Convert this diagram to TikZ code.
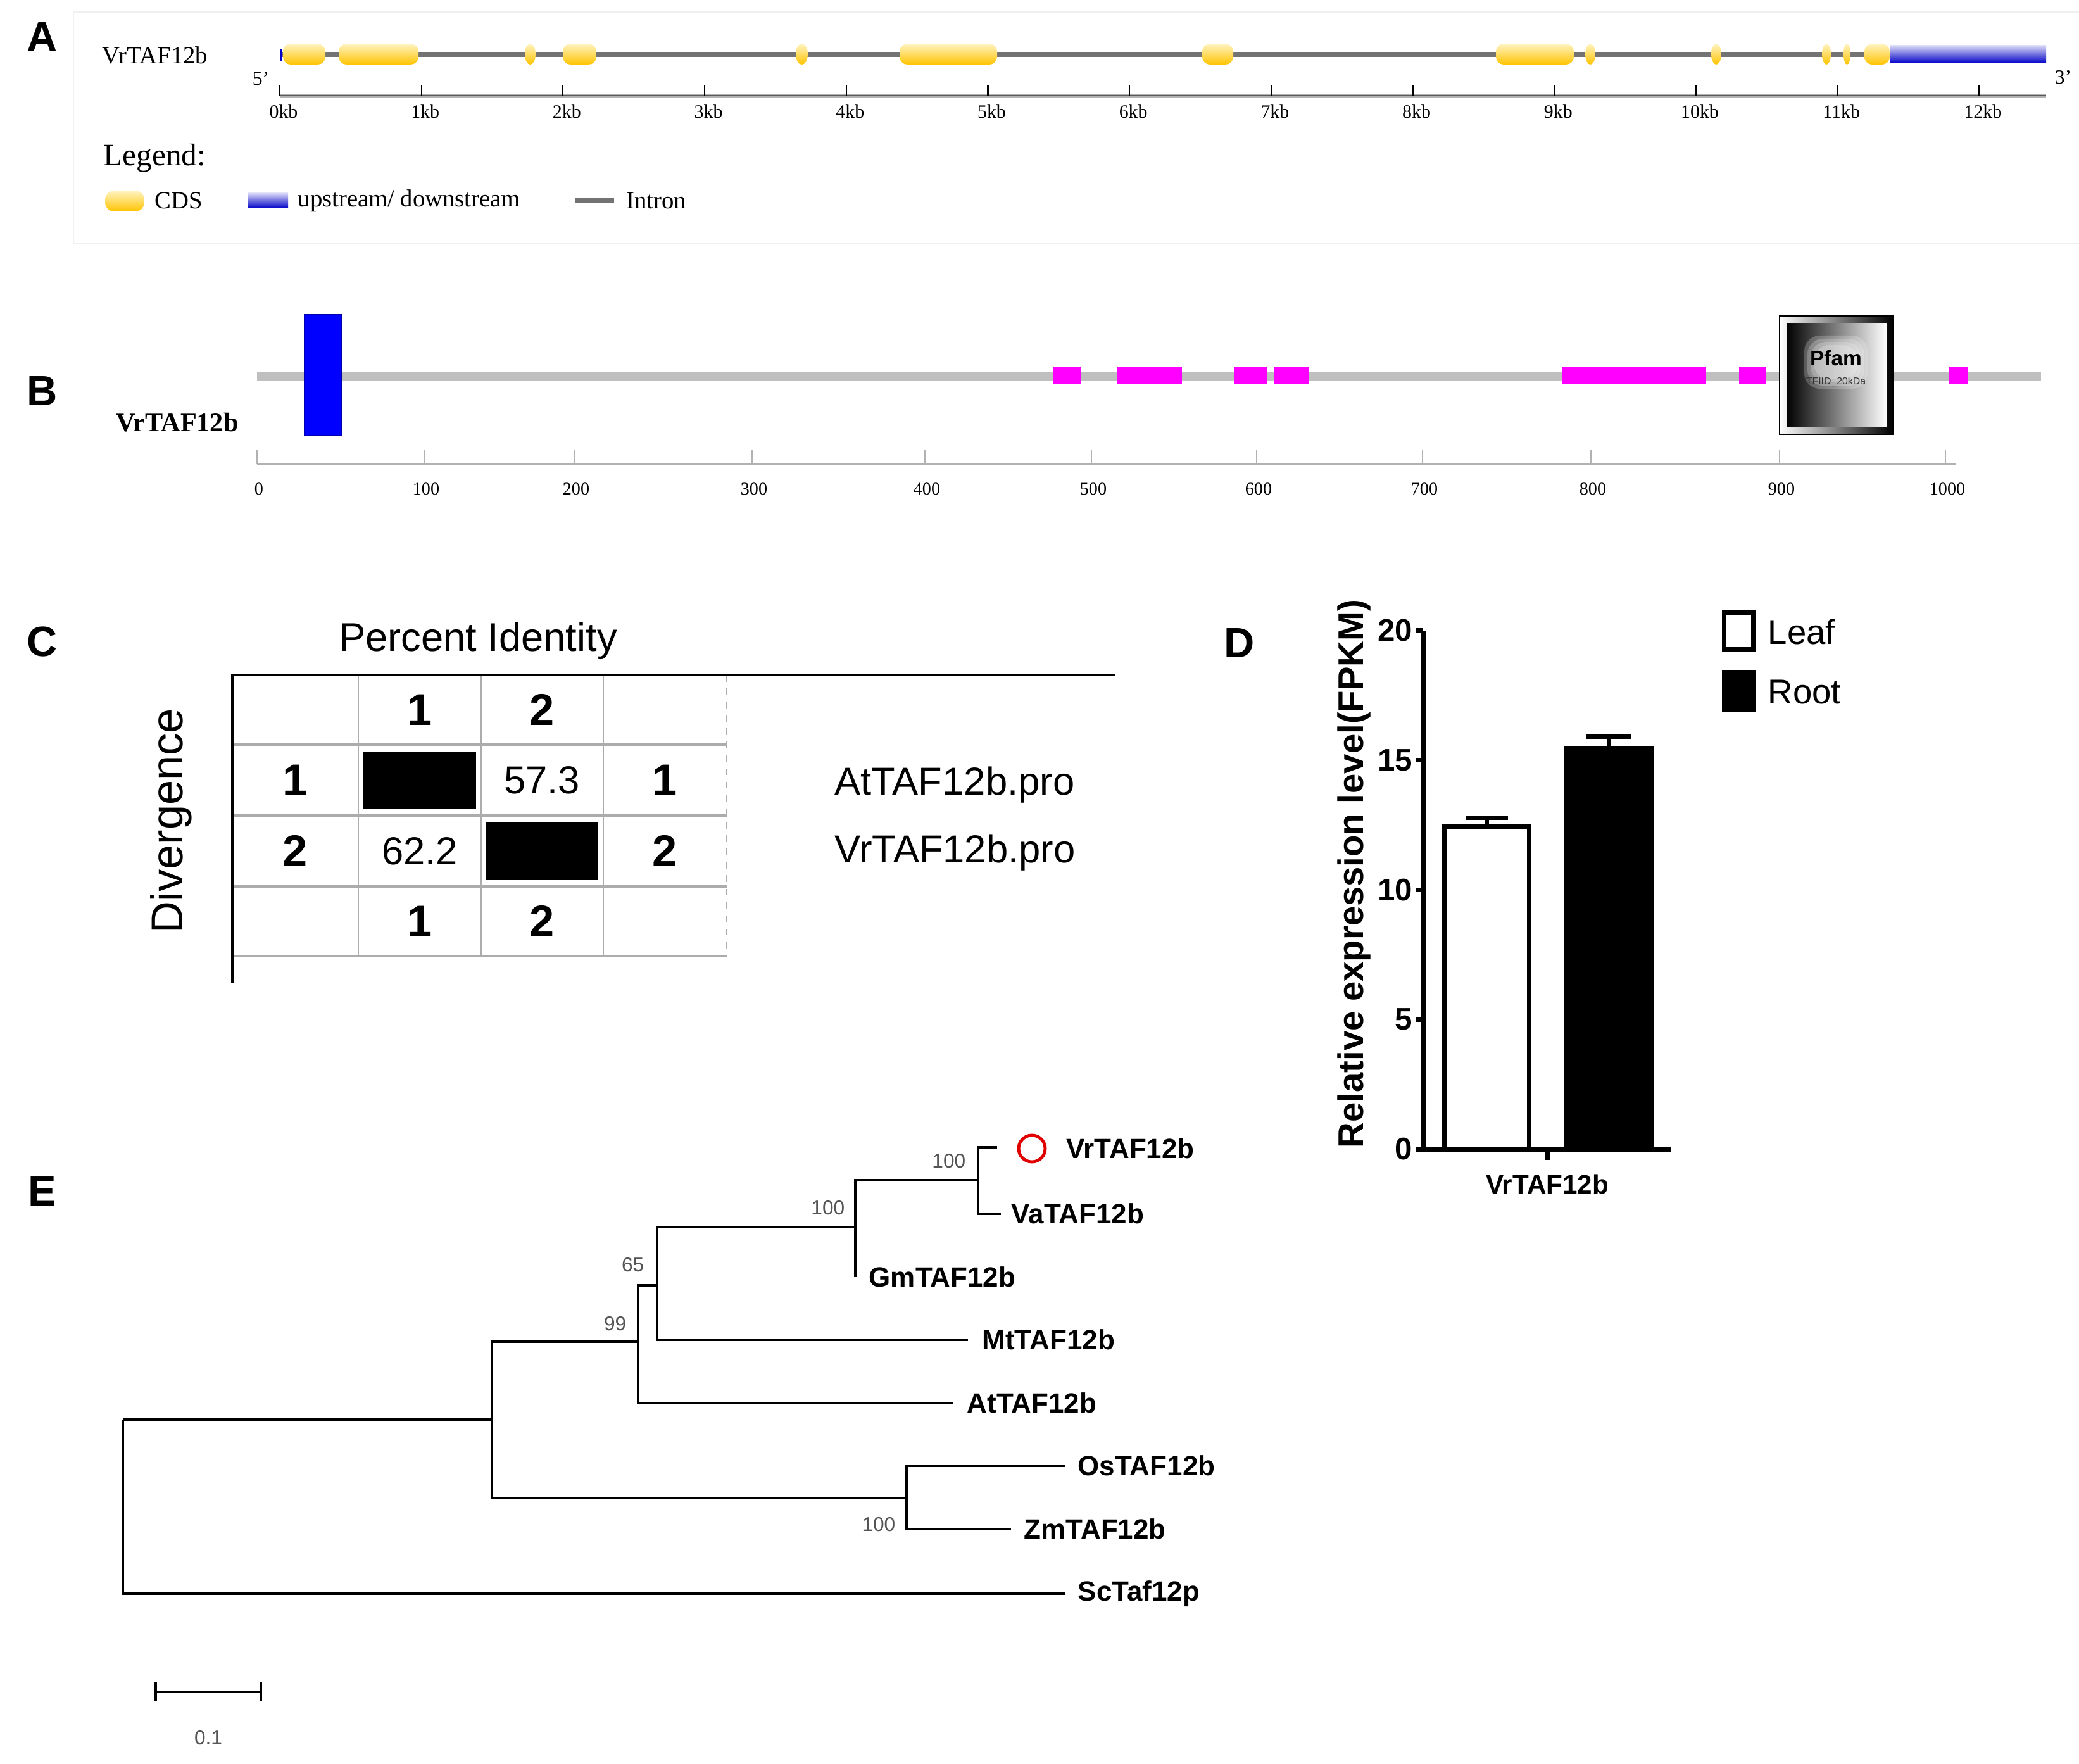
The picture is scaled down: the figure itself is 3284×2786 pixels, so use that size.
\documentclass[tikz,border=0pt]{standalone}
\usepackage{fontspec}
\setmainfont{Liberation Serif}
\setsansfont{Liberation Sans}
\usetikzlibrary{positioning}

\definecolor{cdsgold}{RGB}{255,196,0}
\definecolor{cdspale}{RGB}{255,244,196}
\definecolor{utrblue}{RGB}{0,0,200}
\definecolor{motifpink}{RGB}{255,0,255}
\definecolor{smartblue}{RGB}{0,0,255}
\definecolor{bootgray}{RGB}{85,85,85}
\definecolor{markred}{RGB}{225,0,0}

\tikzset{
  panel/.style={font=\sffamily\bfseries\fontsize{19}{21}\selectfont},
  exon/.style={top color=cdspale, bottom color=cdsgold},
  utr/.style={top color=utrblue!15, bottom color=utrblue},
  intron/.style={draw=black!55, line width=2.2pt},
  kblabel/.style={font=\fontsize{8.5}{10}\selectfont},
  aalabel/.style={font=\fontsize{8}{9}\selectfont},
  legtext/.style={font=\fontsize{11}{12}\selectfont, anchor=west, inner sep=0pt},
  motif/.style={fill=motifpink},
  idtext/.style={font=\sffamily\fontsize{17.5}{20}\selectfont},
  idnum/.style={font=\sffamily\bfseries\fontsize{20}{22}\selectfont},
  gridline/.style={draw=gray!65, line width=1.1pt},
  axisline/.style={line width=2pt},
  ytick/.style={font=\sffamily\bfseries\fontsize{14}{16}\selectfont, anchor=east, inner sep=0pt},
  taxon/.style={font=\sffamily\bfseries\fontsize{12.5}{14}\selectfont, anchor=west, inner sep=0pt},
  boot/.style={font=\sffamily\fontsize{9}{10}\selectfont, text=bootgray, inner sep=0pt},
  branch/.style={line width=1pt},
}

\begin{document}
\begin{tikzpicture}[x=0.01cm, y=-0.01cm]
\useasboundingbox (0,0) rectangle (3284,2786);

% A: gene structure
\node[panel] (labA) at (67,59) {A};
\draw[gray!12] (3284,19) -| (116,384) -- (3284,384);
\node[font=\fontsize{11}{12}\selectfont] (geneA) at (245,87) {VrTAF12b};
\draw[intron] (442,86) -- (2985,86);
\foreach \a/\b in {447/514,535/661,889/942,1421/1575,1899/1948,2363/2486,2945/2985}
  \shade[exon, rounded corners=3.5pt] (\a,69) rectangle (\b,102);
\foreach \a/\b in {829/846,1257/1276,2504/2520,2703/2719,2878/2892,2912/2923}
  \shade[exon] ({(\a+\b)/2},85.5) ellipse ({(\b-\a)/2} and 16.5);
\shade[utr] (2985,72) rectangle (3232,100);
\fill[utrblue] (442,77) rectangle (446,96);
\node[font=\fontsize{9}{10}\selectfont] (end5) at (412,124) {5'};
\node[font=\fontsize{9}{10}\selectfont] (end3) at (3259,122) {3'};

\draw[black!30, line width=1.8pt] (442,151) -- (3232,151);
\draw[black!65, line width=0.7pt] (442,151) -- (3232,151);
\foreach \k in {0,...,12}{
  \draw[line width=0.6pt] ({442+223.7*\k},135) -- ({442+223.7*\k},151);
  \node[kblabel] (kb\k) at ({448+223.7*\k},176) {\k kb};
}

\node[font=\fontsize{14}{16}\selectfont, anchor=west, inner sep=0pt] (legend) at (163,250) {Legend:};
\shade[exon, rounded corners=4pt] (166,301) rectangle (228,334);
\node[legtext] (legcds) at (244,317) {CDS};
\shade[utr] (391,305) rectangle (455,329);
\node[legtext] (legutr) at (470,317) {upstream/ downstream};
\draw[intron] (908,317) -- (970,317);
\node[legtext] (legintron) at (989,317) {Intron};

% B: protein domains
\node[panel] (labB) at (67,618) {B};
\node[font=\bfseries\fontsize{12}{14}\selectfont] (protB) at (280,667) {VrTAF12b};
\fill[gray!50] (406,587) rectangle (3224,601);
\fill[smartblue, draw=smartblue!70!black, line width=0.5pt] (481,497) rectangle (539,688);
\foreach \a/\b in {1664/1707,1764/1867,1950/2001,2013/2067,2467/2695,2747/2790,3079/3108}
  \fill[motif] (\a,580) rectangle (\b,606);
\shade[left color=white, right color=black, draw=black, line width=0.5pt] (2811,499) rectangle (2990,686);
\shade[left color=black, right color=white] (2822,511) rectangle (2980,675);
\foreach \d in {0,5,10,15}
  \fill[white, fill opacity=0.22, rounded corners=7pt] ({2850+\d},{530+\d}) rectangle ({2950-\d},{614-\d});
\node[font=\sffamily\bfseries\fontsize{9.5}{11}\selectfont] (pfam) at (2900,566) {Pfam};
\node[font=\sffamily\fontsize{4.5}{5}\selectfont, text=black!80] (tfiid) at (2900,603) {TFIID\_20kDa};

\draw[gray!60, line width=0.6pt] (406,733) -- (3090,733);
\foreach \x/\t in {406/0,670/100,907/200,1188/300,1461/400,1724/500,1985/600,2247/700,2513/800,2811/900,3073/1000}{
  \draw[gray!60, line width=0.6pt] (\x,710) -- (\x,733);
  \node[aalabel] (aa\t) at (\x+3,772) {\t};
}

% C: identity matrix
\node[panel] (labC) at (67,1014) {C};
\node[font=\sffamily\fontsize{18}{20}\selectfont] (pctid) at (755,1012) {Percent Identity};
\node[font=\sffamily\fontsize{20}{22}\selectfont, rotate=90] (diverg) at (270,1297) {Divergence};
\foreach \y in {1176,1288,1400,1510}
  \draw[gridline] (367,\y) -- (1148,\y);
\foreach \x in {566,760,953}
  \draw[gray!65, line width=0.7pt] (\x,1066) -- (\x,1510);
\draw[gray!65, dashed, line width=0.4pt] (1148,1066) -- (1148,1510);
\draw[line width=1pt] (1762,1066) -| (367,1553);
\fill (574,1187) rectangle (752,1278);
\fill (767,1298) rectangle (944,1390);
\foreach \i/\x in {1/663,2/856}{
  \node[idnum] (top\i) at (\x,1121) {\i};
  \node[idnum] (bot\i) at (\x,1455) {\i};
}
\foreach \i/\y in {1/1232,2/1344}{
  \node[idnum] (left\i) at (466,\y) {\i};
  \node[idnum] (right\i) at (1050,\y) {\i};
}
\node[idtext] (pid12) at (856,1232) {57.3};
\node[idtext] (div21) at (663,1344) {62.2};
\node[idtext, anchor=west, inner sep=0pt] (seq1) at (1318,1240) {AtTAF12b.pro};
\node[idtext, anchor=west, inner sep=0pt] (seq2) at (1318,1347) {VrTAF12b.pro};

% D: expression
\node[panel] (labD) at (1958,1016) {D};
\draw[axisline] (2248,996) -- (2248,1815);
\draw[axisline] (2240,1815) -- (2640,1815);
\foreach \v in {0,5,10,15,20}{
  \draw[axisline] (2236,{1815-40.95*\v}) -- (2248,{1815-40.95*\v});
  \node[ytick] (yt\v) at (2232,{1815-40.95*\v}) {\v};
}
\draw[axisline] (2444,1815) -- (2444,1832);
\draw[axisline, fill=white] (2281,1815) rectangle (2415,{1815-40.95*12.45});
\draw[axisline] (2348,{1815-40.95*12.45}) -- (2348,{1815-40.95*12.78}) (2316,{1815-40.95*12.78}) -- (2382,{1815-40.95*12.78});
\draw[axisline, fill=black] (2474,1815) rectangle (2609,{1815-40.95*15.46});
\draw[axisline] (2541,{1815-40.95*15.46}) -- (2541,{1815-40.95*15.92}) (2505,{1815-40.95*15.92}) -- (2576,{1815-40.95*15.92});
\node[font=\sffamily\bfseries\fontsize{12}{14}\selectfont] (xlab) at (2444,1870) {VrTAF12b};
\node[font=\sffamily\bfseries\fontsize{16}{18}\selectfont, rotate=90] (ylab) at (2139,1380) {Relative expression level(FPKM)};
\draw[axisline, fill=white] (2723,968) rectangle (2769,1026);
\node[font=\sffamily\fontsize{15.5}{18}\selectfont, anchor=west, inner sep=0pt] (leaf) at (2792,998) {Leaf};
\draw[axisline, fill=black] (2723,1062) rectangle (2769,1120);
\node[font=\sffamily\fontsize{15.5}{18}\selectfont, anchor=west, inner sep=0pt] (root) at (2792,1093) {Root};

% E: tree
\node[panel] (labE) at (67,1882) {E};
\coordinate (n0) at (194,2242);
\coordinate (nA) at (777,2242);
\coordinate (nB) at (1432,2366);
\coordinate (nC) at (1008,2119);
\coordinate (nD) at (1038,2030);
\coordinate (nE) at (1351,1938);
\coordinate (nF) at (1545,1864);
\coordinate (tVr) at (1575,1812);
\coordinate (tVa) at (1581,1917);
\coordinate (tGm) at (1351,2017);
\coordinate (tMt) at (1529,2116);
\coordinate (tAt) at (1505,2216);
\coordinate (tOs) at (1682,2315);
\coordinate (tZm) at (1597,2415);
\coordinate (tSc) at (1682,2517);

\draw[branch] (n0) -- (nA);
\draw[branch] (n0) |- (tSc);
\draw[branch] (nA) |- (nC);
\draw[branch] (nA) |- (nB);
\draw[branch] (nB) |- (tOs);
\draw[branch] (nB) |- (tZm);
\draw[branch] (nC) |- (nD);
\draw[branch] (nC) |- (tAt);
\draw[branch] (nD) |- (nE);
\draw[branch] (nD) |- (tMt);
\draw[branch] (nE) |- (nF);
\draw[branch] (nE) -- (tGm);
\draw[branch] (nF) |- (tVr);
\draw[branch] (nF) |- (tVa);

\node[draw=markred, circle, line width=1.4pt, minimum size=0.42cm, inner sep=0pt] (vrmark) at (1630,1814) {};
\node[taxon] (lVr) at (1684,1814) {VrTAF12b};
\node[taxon, right=0.16cm of tVa] (lVa) {VaTAF12b};
\node[taxon, right=0.21cm of tGm] (lGm) {GmTAF12b};
\node[taxon, right=0.22cm of tMt] (lMt) {MtTAF12b};
\node[taxon, right=0.22cm of tAt] (lAt) {AtTAF12b};
\node[taxon, right=0.2cm of tOs] (lOs) {OsTAF12b};
\node[taxon, right=0.2cm of tZm] (lZm) {ZmTAF12b};
\node[taxon, right=0.2cm of tSc] (lSc) {ScTaf12p};

\node[boot, above left=0.18cm and 0.19cm of nF] (bsF) {100};
\node[boot, above left=0.18cm and 0.16cm of nE] (bsE) {100};
\node[boot, above left=0.2cm and 0.2cm of nD] (bsD) {65};
\node[boot, above left=0.16cm and 0.18cm of nC] (bsC) {99};
\node[boot, anchor=south east] (bsB) at (1415,2420) {100};

\draw[branch] (246,2656) -- (246,2687) (246,2672) -- (412,2672) (412,2656) -- (412,2687);
\node[boot] (scale) at (329,2745) {0.1};
\end{tikzpicture}
\end{document}
